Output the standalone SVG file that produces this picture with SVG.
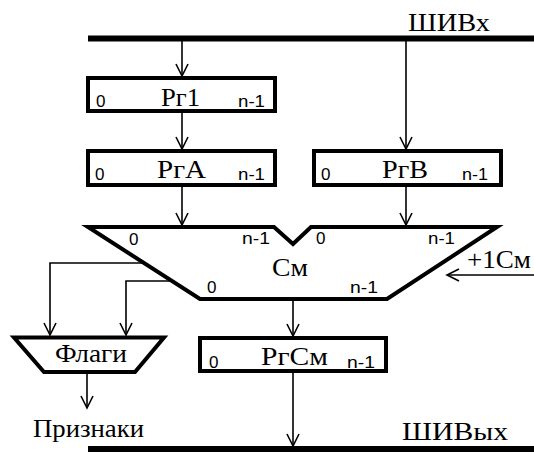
<svg xmlns="http://www.w3.org/2000/svg" width="534" height="452" viewBox="0 0 534 452">
<style>
.bus{stroke:#000;stroke-width:6;fill:none}
.box{fill:#fff;stroke:#000;stroke-width:4}
.shape{fill:#fff;stroke:#000;stroke-width:4;stroke-linejoin:miter}
.ln{fill:none;stroke:#000;stroke-width:1.6}
.ar{marker-end:url(#arr)}
.t{font-size:26px;fill:#000;font-weight:normal}
.s{font-size:17px;fill:#000;font-weight:normal}
</style>
<defs>
<marker id="arr" markerUnits="userSpaceOnUse" markerWidth="16" markerHeight="16" refX="12" refY="6" orient="auto" viewBox="0 0 16 16" overflow="visible">
<path d="M0,0 L12,6 L0,12" fill="none" stroke="#000" stroke-width="1.6"/>
</marker>
</defs>
<g id="bus-in">
<line class="bus" x1="88" y1="38.5" x2="534" y2="38.5"/>
<text class="t" font-family="Liberation Serif, serif" x="408" y="31" textLength="82" lengthAdjust="spacingAndGlyphs">ШИВх</text>
</g>
<g id="bus-out">
<line class="bus" x1="88" y1="449" x2="534" y2="449"/>
<text class="t" font-family="Liberation Serif, serif" x="402" y="440" textLength="106" lengthAdjust="spacingAndGlyphs">ШИВых</text>
</g>
<g id="connectors">
<line class="ln ar" x1="182" y1="41" x2="182" y2="76"/>
<line class="ln ar" x1="182" y1="113" x2="182" y2="149"/>
<line class="ln ar" x1="406" y1="41" x2="406" y2="149"/>
<line class="ln ar" x1="182" y1="187" x2="182" y2="225"/>
<line class="ln ar" x1="406" y1="187" x2="406" y2="225"/>
<polyline class="ln ar" points="143,263 50,263 50,335"/>
<polyline class="ln ar" points="170,281 126,281 126,335"/>
<line class="ln ar" x1="293" y1="300" x2="293" y2="336"/>
<line class="ln ar" x1="293" y1="373" x2="293" y2="446"/>
<line class="ln ar" x1="87" y1="373" x2="87" y2="408"/>
<line class="ln ar" x1="534" y1="275" x2="447" y2="275"/>
</g>
<g id="rg1">
<rect class="box" x="88" y="78" width="187" height="33"/>
<text class="s" font-family="Liberation Sans, sans-serif" x="96" y="107">0</text>
<text class="t" font-family="Liberation Serif, serif" x="161" y="106" textLength="39" lengthAdjust="spacingAndGlyphs">Рг1</text>
<text class="s" font-family="Liberation Sans, sans-serif" x="238" y="107" textLength="27" lengthAdjust="spacingAndGlyphs">n-1</text>
</g>
<g id="rgA">
<rect class="box" x="88" y="151" width="187" height="34"/>
<text class="s" font-family="Liberation Sans, sans-serif" x="95" y="180">0</text>
<text class="t" font-family="Liberation Serif, serif" x="157" y="178" textLength="49" lengthAdjust="spacingAndGlyphs">РгА</text>
<text class="s" font-family="Liberation Sans, sans-serif" x="238" y="180" textLength="27" lengthAdjust="spacingAndGlyphs">n-1</text>
</g>
<g id="rgB">
<rect class="box" x="314" y="151" width="187" height="34"/>
<text class="s" font-family="Liberation Sans, sans-serif" x="321" y="180">0</text>
<text class="t" font-family="Liberation Serif, serif" x="382" y="178" textLength="46" lengthAdjust="spacingAndGlyphs">РгВ</text>
<text class="s" font-family="Liberation Sans, sans-serif" x="462" y="180" textLength="26" lengthAdjust="spacingAndGlyphs">n-1</text>
</g>
<g id="adder">
<polygon class="shape" points="88,227 274,227 293,244 311,227 497,227 387,299 200,299"/>
<text class="s" font-family="Liberation Sans, sans-serif" x="129" y="245">0</text>
<text class="s" font-family="Liberation Sans, sans-serif" x="242" y="244" textLength="28" lengthAdjust="spacingAndGlyphs">n-1</text>
<text class="s" font-family="Liberation Sans, sans-serif" x="316" y="244">0</text>
<text class="s" font-family="Liberation Sans, sans-serif" x="428" y="244" textLength="27" lengthAdjust="spacingAndGlyphs">n-1</text>
<text class="t" font-family="Liberation Serif, serif" x="272" y="276" textLength="36" lengthAdjust="spacingAndGlyphs">См</text>
<text class="s" font-family="Liberation Sans, sans-serif" x="207" y="293">0</text>
<text class="s" font-family="Liberation Sans, sans-serif" x="350" y="293" textLength="28" lengthAdjust="spacingAndGlyphs">n-1</text>
</g>
<g id="inc">
<text class="t" font-family="Liberation Serif, serif" x="467" y="268" textLength="64" lengthAdjust="spacingAndGlyphs">+1См</text>
</g>
<g id="flags">
<polygon class="shape" points="14,337.5 164,337.5 135,372 44,372"/>
<text class="t" font-family="Liberation Serif, serif" x="55" y="362" textLength="72" lengthAdjust="spacingAndGlyphs">Флаги</text>
</g>
<g id="signs">
<text class="t" font-family="Liberation Serif, serif" x="33" y="437" textLength="111" lengthAdjust="spacingAndGlyphs">Признаки</text>
</g>
<g id="rgSm">
<rect class="box" x="200" y="338" width="186" height="33"/>
<text class="s" font-family="Liberation Sans, sans-serif" x="209" y="368">0</text>
<text class="t" font-family="Liberation Serif, serif" x="261" y="365" textLength="67" lengthAdjust="spacingAndGlyphs">РгСм</text>
<text class="s" font-family="Liberation Sans, sans-serif" x="347" y="368" textLength="28" lengthAdjust="spacingAndGlyphs">n-1</text>
</g>
</svg>
